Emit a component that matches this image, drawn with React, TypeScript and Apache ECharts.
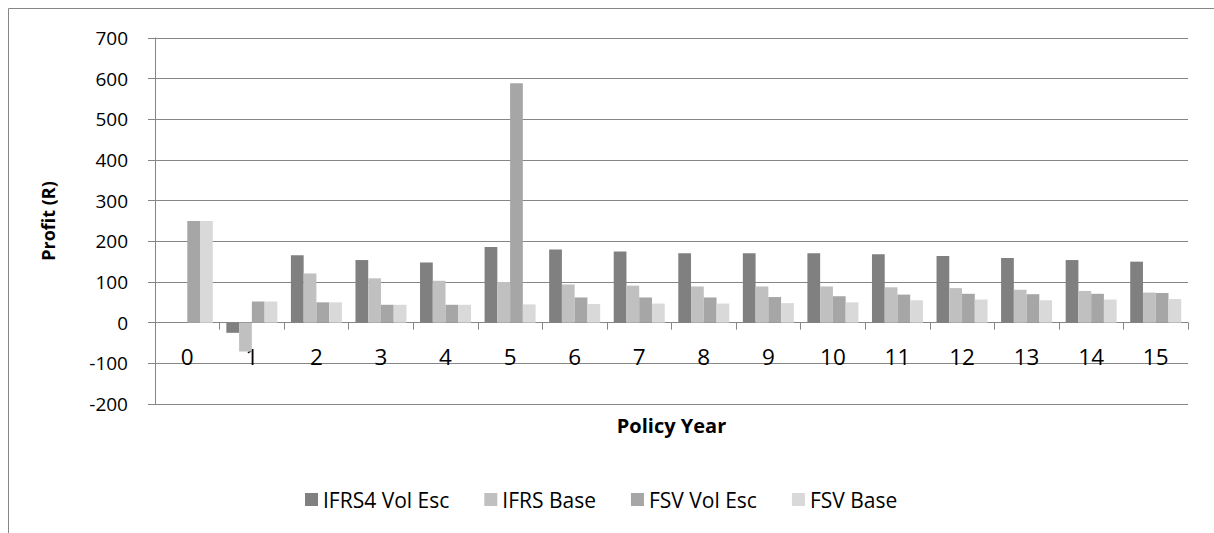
import React, { useEffect, useRef } from "react";
import * as echarts from "echarts";

const categories = ["0", "1", "2", "3", "4", "5", "6", "7", "8", "9", "10", "11", "12", "13", "14", "15"];
const seriesNames = ["IFRS4 Vol Esc", "IFRS Base", "FSV Vol Esc", "FSV Base"];
const ifrs4VolEsc = [null, -25, 166, 154, 148, 186, 180, 175, 171, 171, 171, 168, 164, 159, 154, 150];
const ifrsBase = [null, -71, 121, 109, 103, 100, 94, 91, 89, 89, 89, 87, 85, 81, 78, 74];
const fsvVolEsc = [250, 52, 50, 44, 44, 589, 62, 62, 62, 63, 65, 69, 71, 70, 71, 73];
const fsvBase = [250, 52, 50, 44, 44, 45, 46, 47, 47, 48, 50, 55, 57, 55, 57, 58];
const seriesColors = ["#808080", "#c0c0c0", "#a6a6a6", "#d9d9d9"];
const yMin = -200;
const yMax = 700;
const yStep = 100;

const GRID = "#868686";
const FONT = "'Open Sans', 'Noto Sans', sans-serif";
const GRID_TOP = 38;
const GRID_BOTTOM = 129;
const HEIGHT = 533;

export default function App() {
  const ref = useRef<HTMLDivElement>(null);
  useEffect(() => {
    if (!ref.current) return;
    const chart = echarts.init(ref.current, null, { renderer: "svg" });
    const data = [ifrs4VolEsc, ifrsBase, fsvVolEsc, fsvBase];
    const plotH = HEIGHT - GRID_TOP - GRID_BOTTOM;
    const zeroOffset = -(plotH * (0 - yMin)) / (yMax - yMin);
    chart.setOption({
      animation: false,
      backgroundColor: "#ffffff",
      textStyle: { fontFamily: FONT },
      grid: { left: 155, right: 26, top: GRID_TOP, bottom: GRID_BOTTOM, containLabel: false },
      legend: {
        left: 300,
        top: 484,
        itemWidth: 13,
        itemHeight: 13,
        itemGap: 35,
        icon: "rect",
        textStyle: { fontSize: 21, color: "#000", fontFamily: FONT },
        data: seriesNames,
      },
      xAxis: {
        type: "category",
        data: categories,
        offset: zeroOffset,
        name: "Policy Year",
        nameLocation: "middle",
        nameGap: 93,
        nameTextStyle: { fontSize: 20, fontWeight: "bold", color: "#000", fontFamily: FONT },
        axisLine: { onZero: false, lineStyle: { color: GRID, width: 1 } },
        axisTick: { show: true, length: 7, lineStyle: { color: GRID } },
        axisLabel: { fontSize: 22.5, color: "#000", margin: 22, fontFamily: FONT },
        splitLine: { show: false },
      },
      yAxis: {
        type: "value",
        min: yMin,
        max: yMax,
        interval: yStep,
        name: "Profit (R)",
        nameLocation: "middle",
        nameRotate: 90,
        nameGap: 98,
        nameTextStyle: { fontSize: 18, fontWeight: "bold", color: "#000", fontFamily: FONT },
        axisLine: { show: true, lineStyle: { color: GRID, width: 1 } },
        axisTick: { show: true, length: 7, lineStyle: { color: GRID } },
        axisLabel: { fontSize: 19, color: "#000", margin: 27, fontFamily: FONT },
        splitLine: { show: true, lineStyle: { color: GRID, width: 1 } },
      },
      graphic: [
        { type: "line", shape: { x1: 8.5, y1: 8.5, x2: 1214, y2: 8.5 }, style: { stroke: GRID, lineWidth: 1 } },
        { type: "line", shape: { x1: 8.5, y1: 8.5, x2: 8.5, y2: 533 }, style: { stroke: GRID, lineWidth: 1 } },
      ],
      series: seriesNames.map((name, i) => ({
        name,
        type: "bar",
        data: data[i],
        barGap: "0%",
        barCategoryGap: "21%",
        itemStyle: { color: seriesColors[i] },
      })),
    });
    return () => chart.dispose();
  }, []);
  return (
    <div style={{ position: "absolute", left: 0, top: 0, width: 1214, height: 533, background: "#fff" }}>
      <div ref={ref} style={{ width: 1214, height: 533 }} />
    </div>
  );
}
